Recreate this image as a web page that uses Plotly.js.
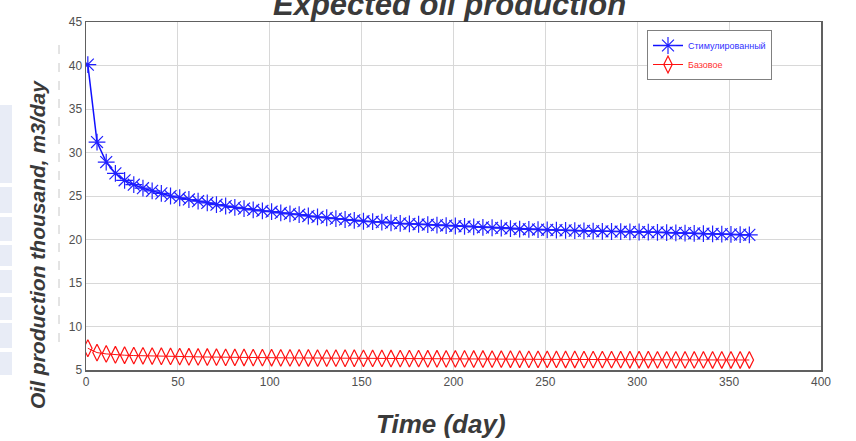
<!DOCTYPE html>
<html>
<head>
<meta charset="utf-8">
<script src="https://cdn.plot.ly/plotly-3.0.1.min.js"></script>
<style>html,body{margin:0;padding:0;background:#fff;}#chart{width:856px;height:441px;}</style>
</head>
<body>
<div id="chart"></div>
<script>
const days = [1,6,11,16,21,26,31,36,41,46,51,56,61,66,71,76,81,86,91,96,101,106,111,116,121,126,131,136,141,146,151,156,161,166,171,176,181,186,191,196,201,206,211,216,221,226,231,236,241,246,251,256,261,266,271,276,281,286,291,296,301,306,311,316,321,326,331,336,341,346,351,356,361];
const stimulated = [40.1,31.2,28.9,27.6,26.8,26.3,25.9,25.6,25.3,25.0,24.8,24.6,24.4,24.2,24.0,23.85,23.7,23.55,23.4,23.3,23.2,23.05,22.95,22.85,
  22.7,22.6,22.5,22.4,22.3,22.2,22.1,22.05,22.0,21.9,21.85,21.8,21.75,21.7,21.65,21.6,21.55,21.5,21.45,21.4,
  21.35,21.3,21.25,21.2,21.17,21.14,21.11,21.08,21.05,21.02,20.99,20.96,20.94,20.92,20.9,20.88,20.86,20.84,20.82,20.8,
  20.77,20.74,20.71,20.68,20.65,20.62,20.59,20.56,20.53];
const base = [7.5,7.0,6.85,6.75,6.7,6.66,6.63,6.6,6.58,6.56,6.54,6.52,6.5,6.49,6.48,6.46,6.45,6.44,6.43,6.42,
  6.41,6.4,6.39,6.39,6.38,6.37,6.37,6.36,6.35,6.35,6.34,6.33,6.33,6.32,6.31,6.31,6.3,6.29,6.29,6.28,
  6.28,6.27,6.26,6.26,6.25,6.25,6.24,6.24,6.23,6.23,6.22,6.22,6.21,6.21,6.2,6.2,6.2,6.19,6.19,6.18,
  6.18,6.18,6.17,6.17,6.17,6.16,6.16,6.16,6.15,6.15,6.15,6.15,6.15];
const seriesNames = ['Стимулированный', 'Базовое'];
const xTicks = [0,50,100,150,200,250,300,350,400];
const yTicks = [5,10,15,20,25,30,35,40,45];
const chartTitle = 'Expected oil production';
const xTitle = 'Time (day)';
const yTitle = 'Oil production thousand, m3/day';

const FONT = 'Arial, "Liberation Sans", sans-serif';
const traces = [
  {x: days, y: stimulated, type: 'scatter', mode: 'lines+markers',
   name: '<span style="color:#3030ff">' + seriesNames[0] + '</span>',
   line: {color: '#1010ff', width: 1.5},
   marker: {symbol: 'asterisk-open', size: 14, color: '#2020ff', line: {color: '#2020ff', width: 1.2}}},
  {x: days, y: base, type: 'scatter', mode: 'lines+markers',
   name: '<span style="color:#ff3030">' + seriesNames[1] + '</span>',
   line: {color: '#ff1010', width: 1},
   marker: {symbol: 'diamond-tall-open', size: 12, color: '#ff1010', line: {color: '#ff1010', width: 1.2}}}
];

const L = 86, R = 821, T = 22, B = 370;
const px = v => (v - L) / (R - L);
const py = v => (B - v) / (B - T);

const shapes = [];
const rows = [[105,183],[187,213],[217,241],[245,266],[270,293],[297,320],[323,348],[352,375]];
rows.forEach(r => shapes.push({type: 'rect', xref: 'paper', yref: 'paper', x0: px(0), x1: px(12), y0: py(r[1]), y1: py(r[0]), fillcolor: '#e8ecf6', line: {width: 0}, layer: 'below'}));
shapes.push({type: 'line', xref: 'paper', yref: 'paper', x0: px(59), x1: px(59), y0: py(45), y1: py(350), line: {color: '#c8c8c8', width: 1, dash: 'dash'}});

const layout = {
  width: 856, height: 441,
  margin: {l: L, r: 856 - R, t: T, b: 441 - B, pad: 0},
  paper_bgcolor: '#ffffff', plot_bgcolor: '#ffffff',
  showlegend: true,
  legend: {x: px(647), y: py(30), xanchor: 'left', yanchor: 'top', bgcolor: '#ffffff', bordercolor: '#808080', borderwidth: 1,
           font: {family: FONT, size: 9, color: '#3030ff'}, itemwidth: 30, tracegroupgap: 0},
  xaxis: {range: [0, 400], tickvals: xTicks, ticktext: xTicks.map(String), showgrid: true, gridcolor: '#d8d8d8', gridwidth: 1,
          zeroline: false, showline: true, linecolor: '#606060', linewidth: 1.5, mirror: true, ticks: '',
          tickfont: {family: FONT, size: 12, color: '#505050'}},
  yaxis: {range: [5, 45], tickvals: yTicks, ticktext: yTicks.map(String), showgrid: true, gridcolor: '#d8d8d8', gridwidth: 1,
          zeroline: false, showline: true, linecolor: '#606060', linewidth: 1.5, mirror: true, ticks: '',
          tickfont: {family: FONT, size: 12, color: '#505050'}},
  shapes: shapes,
  annotations: [
    {text: '<b><i>' + chartTitle + '</i></b>', xref: 'paper', yref: 'paper', x: px(449), y: py(5), xanchor: 'center', yanchor: 'middle', showarrow: false,
     font: {family: FONT, size: 31, color: '#3a3a3a'}},
    {text: '<b><i>' + xTitle + '</i></b>', xref: 'paper', yref: 'paper', x: px(441), y: py(424), xanchor: 'center', yanchor: 'middle', showarrow: false,
     font: {family: FONT, size: 26, color: '#3a3a3a'}},
    {text: '<b><i>' + yTitle + '</i></b>', xref: 'paper', yref: 'paper', x: px(37), y: py(245), xanchor: 'center', yanchor: 'middle', showarrow: false, textangle: -90,
     font: {family: FONT, size: 21, color: '#3a3a3a'}}
  ]
};

Plotly.newPlot('chart', traces, layout, {displayModeBar: false, staticPlot: true});
</script>
</body>
</html>
